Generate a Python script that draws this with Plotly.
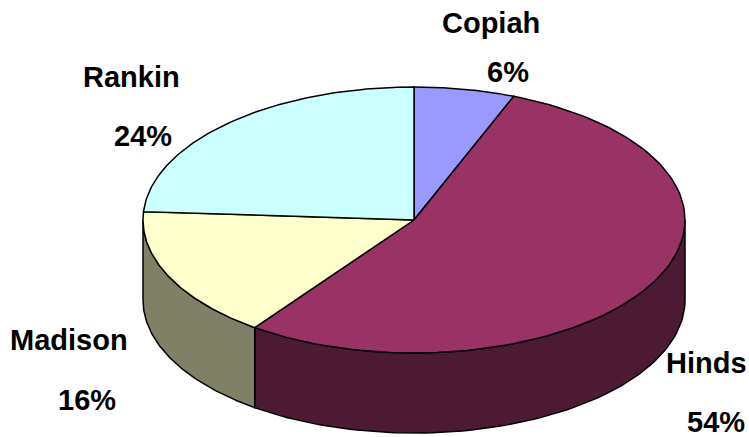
import numpy as np
import plotly.graph_objects as go

# Data
categories = ["Copiah", "Hinds", "Madison", "Rankin"]
values = [6, 54, 16, 24]
top_colors = ["#9999FF", "#993366", "#FFFFCC", "#CCFFFF"]
side_colors = ["#4D4D80", "#4D1A33", "#808066", "#668080"]

# Geometry of the tilted pie (pixels in the page)
W, H = 749, 437
cx, cy, rx, ry, depth = 414, 220, 271, 133, 80

# Label placement (pixel centers): name, percentage
label_pos = {
    "Copiah": ((491, 23), (508, 72)),
    "Hinds": ((706, 363), (716, 422)),
    "Madison": ((69, 340), (87, 400)),
    "Rankin": ((131, 77), (143, 136)),
}


def pt(theta_deg, dy=0.0):
    t = np.radians(theta_deg)
    return cx + rx * np.sin(t), cy - ry * np.cos(t) + dy


fig = go.Figure()

total = sum(values)
starts = []
acc = 0.0
for v in values:
    starts.append(acc / total * 360)
    acc += v
ends = starts[1:] + [360.0]

# Side walls (front half: theta 90..270)
for cat, a, b, sc in zip(categories, starts, ends, side_colors):
    lo, hi = max(a, 90), min(b, 270)
    if hi <= lo:
        continue
    th = np.linspace(lo, hi, 80)
    xt, yt = pt(th)
    xb, yb = pt(th[::-1], depth)
    xs = np.concatenate([xt, xb, xt[:1]])
    ys = np.concatenate([yt, yb, yt[:1]])
    fig.add_trace(go.Scatter(x=xs, y=ys, fill="toself", fillcolor=sc, mode="lines",
                             line=dict(color="black", width=1.5), hoverinfo="skip",
                             showlegend=False))

# Top faces
for cat, a, b, tc in zip(categories, starts, ends, top_colors):
    th = np.linspace(a, b, 120)
    xa, ya = pt(th)
    xs = np.concatenate([[cx], xa, [cx]])
    ys = np.concatenate([[cy], ya, [cy]])
    fig.add_trace(go.Scatter(x=xs, y=ys, fill="toself", fillcolor=tc, mode="lines",
                             line=dict(color="black", width=1.5), hoverinfo="skip",
                             showlegend=False))

# Labels
for cat, v in zip(categories, values):
    (nx, ny), (px, py) = label_pos[cat]
    fig.add_annotation(x=nx, y=ny, text=f"<b>{cat}</b>", showarrow=False,
                       xanchor="center", yanchor="middle")
    fig.add_annotation(x=px, y=py, text=f"<b>{round(v / total * 100)}%</b>", showarrow=False,
                       xanchor="center", yanchor="middle")

fig.update_layout(
    width=W, height=H,
    margin=dict(l=0, r=0, t=0, b=0),
    paper_bgcolor="white", plot_bgcolor="white",
    font=dict(family="Liberation Sans, Arial, sans-serif", size=29, color="black"),
    xaxis=dict(range=[0, W], visible=False, fixedrange=True),
    yaxis=dict(range=[H, 0], visible=False, fixedrange=True),
    showlegend=False,
)

fig.write_html(
    "out.html",
    config={"displayModeBar": False},
    post_script="document.body.style.margin='0';document.body.style.overflow='hidden';",
)
